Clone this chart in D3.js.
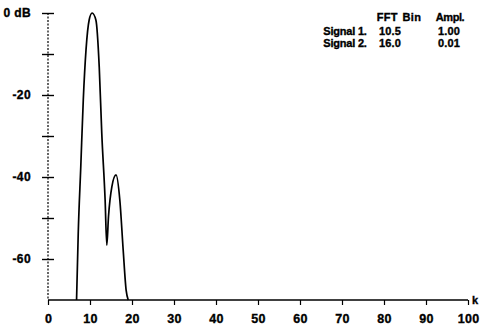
<!DOCTYPE html>
<html>
<head>
<meta charset="utf-8">
<script src="https://cdn.jsdelivr.net/npm/d3@7"></script>
<style>
  body { margin: 0; background: #fff; }
  text { font-family: "Liberation Sans", Arial, sans-serif; font-weight: bold; fill: #000; stroke: #000; stroke-width: 0.35; }
</style>
</head>
<body>
<div id="chart"></div>
<script>
// spectrum of two signals
const bins = [6.8, 7.2, 7.8, 8.4, 9.05, 9.8, 10.5, 11.4, 12.2, 12.8, 13.6, 14.0, 14.4, 15.2, 16.2, 17.1, 17.9, 18.6, 19.1];
const dB   = [-70, -53.7, -37.6, -21.2, -9.0, -1.7, 0, -1.7, -13.2, -29.3, -45.6, -56.6, -49.7, -42.4, -39.5, -45.6, -57.8, -67.6, -70];

const xTicks = [0, 10, 20, 30, 40, 50, 60, 70, 80, 90, 100];
const yTicks = [0, -10, -20, -30, -40, -50, -60];
const yLabels = { "0": "0 dB", "-20": "-20", "-40": "-40", "-60": "-60" };

const legendHead = ["FFT Bin", "Ampl."];
const signalNames = ["Signal 1.", "Signal 2."];
const signalBins = ["10.5", "16.0"];
const signalAmpl = ["1.00", "0.01"];

{
    const W = 481, H = 329;
    const svg = d3.select("#chart").append("svg")
        .attr("width", W).attr("height", H);

    const x = d3.scaleLinear().domain([0, 100]).range([48, 468]);
    const y = d3.scaleLinear().domain([-70, 0]).range([300, 13]);

    // x axis
    const xAxis = svg.append("g")
        .attr("transform", `translate(0,${y(-70)})`)
        .call(d3.axisBottom(x).tickValues(xTicks).tickSize(5).tickSizeOuter(0));
    xAxis.select(".domain").attr("stroke-width", 1.6).attr("d", `M${x(0)},0H${x(100)}`);
    xAxis.selectAll(".tick line").attr("stroke-width", 1.2);
    xAxis.selectAll(".tick text")
        .attr("y", 14)
        .style("font-size", "12.5px").style("font-family", "Liberation Sans, Arial").style("font-weight", "bold")
        .attr("letter-spacing", "0.3");

    svg.append("text").attr("x", x(100) + 4).attr("y", y(-70) + 4)
        .style("font-size", "11px").text("k");

    // y axis (dotted spine, crossing ticks)
    svg.append("line")
        .attr("x1", x(0)).attr("x2", x(0))
        .attr("y1", y(0)).attr("y2", y(-70))
        .attr("stroke", "#000").attr("stroke-width", 1.2)
        .attr("stroke-dasharray", "2,1.5");

    const yAxis = svg.append("g")
        .attr("transform", `translate(${x(0)},0)`)
        .call(d3.axisLeft(y).tickValues(yTicks).tickSize(0).tickSizeOuter(0)
            .tickFormat(d => yLabels[d] || ""));
    yAxis.select(".domain").remove();
    yAxis.selectAll(".tick line")
        .attr("x1", -6).attr("x2", 6)
        .attr("stroke-width", 1.4);
    yAxis.selectAll(".tick text")
        .attr("x", -17)
        .style("font-size", "12px").style("font-family", "Liberation Sans, Arial").style("font-weight", "bold")
        .attr("letter-spacing", "0.4");

    // spectrum curve
    const pts = bins.map((b, i) => ({ bin: b, db: dB[i] }));
    const line = d3.line()
        .x(d => x(d.bin))
        .y(d => y(d.db))
        .curve(d3.curveMonotoneX);

    svg.append("path")
        .datum(pts)
        .attr("fill", "none")
        .attr("stroke", "#000")
        .attr("stroke-width", 1.7)
        .attr("d", line);

    // legend table
    const fs = "11px";
    const colX = [345, 390, 449];
    svg.selectAll(".head").data(legendHead).join("text")
        .attr("x", (d, i) => colX[i + 1] + (i === 0 ? 9 : 1)).attr("y", 21)
        .attr("text-anchor", "middle").style("font-size", fs)
        .attr("word-spacing", "1")
        .attr("letter-spacing", (d, i) => i === 0 ? "0.4" : "-0.4").text(d => d);
    signalNames.forEach((name, i) => {
        const yy = 35 + i * 12;
        svg.append("text").attr("x", colX[0]).attr("y", yy)
            .attr("text-anchor", "middle").style("font-size", fs)
            .attr("letter-spacing", "-0.2").text(name);
        svg.append("text").attr("x", colX[1]).attr("y", yy)
            .attr("text-anchor", "middle").style("font-size", fs)
            .attr("letter-spacing", "0.2").text(signalBins[i]);
        svg.append("text").attr("x", colX[2]).attr("y", yy)
            .attr("text-anchor", "middle").style("font-size", fs)
            .attr("letter-spacing", "0.2").text(signalAmpl[i]);
    });
}
</script>
</body>
</html>
